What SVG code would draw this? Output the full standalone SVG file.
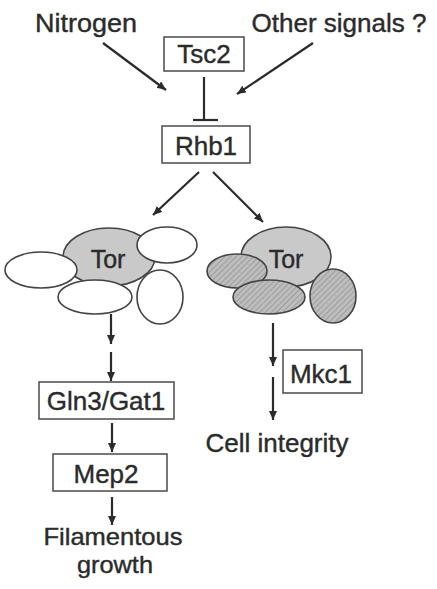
<svg xmlns="http://www.w3.org/2000/svg" width="437" height="589" viewBox="0 0 437 589">
<style>
.t{font-family:"Liberation Sans",Arial,sans-serif;font-size:26px;fill:#2b2b2b;stroke:#2b2b2b;stroke-width:0.4;text-anchor:middle}
.tor{font-size:25px}
.sm{font-size:24px}
.box{fill:#fff;stroke:#555;stroke-width:1.6}
.ln{stroke:#2b2b2b;stroke-width:2.2;fill:none}
.wh{fill:#fff;stroke:#444;stroke-width:1.6}
.gr{fill:#c9c9c9;stroke:#444;stroke-width:1.6}
.ht{fill:url(#hatch);stroke:#444;stroke-width:1.6}
</style>
<defs>
<marker id="ah" markerUnits="userSpaceOnUse" markerWidth="10" markerHeight="10" refX="9" refY="4" orient="auto">
<path d="M0,0 L9,4 L0,8 Z" fill="#2b2b2b"/>
</marker>
<pattern id="hatch" patternUnits="userSpaceOnUse" width="4" height="4" patternTransform="rotate(45)">
<rect width="4" height="4" fill="#bdbdbd"/>
<line x1="0" y1="0" x2="0" y2="4" stroke="#8f8f8f" stroke-width="1.4"/>
</pattern>
</defs>
<rect width="437" height="589" fill="#fff"/>
<g id="nitrogen"><text class="t" x="86" y="32" textLength="102" lengthAdjust="spacingAndGlyphs">Nitrogen</text></g>
<g id="other"><text class="t" x="339" y="32" textLength="175" lengthAdjust="spacingAndGlyphs">Other signals ?</text></g>
<g id="tsc2"><rect class="box" x="164" y="37" width="80" height="34"/><text class="t" x="204" y="63">Tsc2</text></g>
<g id="rhb1"><rect class="box" x="162" y="126" width="88" height="37"/><text class="t" x="206" y="155">Rhb1</text></g>
<g id="tor-complex-left">
<ellipse class="gr" cx="109" cy="257" rx="46" ry="29"/>
<ellipse class="wh" cx="167" cy="245" rx="30" ry="18"/>
<ellipse class="wh" cx="41" cy="270" rx="36" ry="18"/>
<ellipse class="wh" cx="95" cy="297" rx="37" ry="17"/>
<ellipse class="wh" cx="160" cy="297" rx="23" ry="27"/>
<text class="t tor" x="108" y="268">Tor</text>
</g>
<g id="tor-complex-right">
<ellipse class="gr" cx="286" cy="257" rx="45" ry="30"/>
<ellipse class="ht" cx="237" cy="271" rx="30" ry="17"/>
<ellipse class="ht" cx="269" cy="297" rx="36" ry="17"/>
<ellipse class="ht" cx="333" cy="296" rx="23" ry="27"/>
<text class="t tor" x="286" y="268">Tor</text>
</g>
<g id="gln3"><rect class="box" x="39" y="382" width="135" height="37"/><text class="t" x="106" y="410">Gln3/Gat1</text></g>
<g id="mep2"><rect class="box" x="53" y="454" width="114" height="37"/><text class="t" x="106" y="483">Mep2</text></g>
<g id="filamentous"><text class="t sm" x="113" y="545" textLength="139" lengthAdjust="spacingAndGlyphs">Filamentous</text><text class="t sm" x="115" y="573" textLength="76" lengthAdjust="spacingAndGlyphs">growth</text></g>
<g id="mkc1"><rect class="box" x="283" y="350" width="79" height="43"/><text class="t" x="321" y="383">Mkc1</text></g>
<g id="cell"><text class="t" x="277" y="452">Cell integrity</text></g>
<g id="connectors">
<line class="ln" x1="103" y1="43" x2="166" y2="90" marker-end="url(#ah)"/>
<line class="ln" x1="313" y1="43" x2="237" y2="94" marker-end="url(#ah)"/>
<line class="ln" x1="204" y1="77" x2="204" y2="120"/>
<line class="ln" x1="193" y1="120" x2="218" y2="120"/>
<line class="ln" x1="199" y1="172" x2="153" y2="215" marker-end="url(#ah)"/>
<line class="ln" x1="213" y1="172" x2="263" y2="222" marker-end="url(#ah)"/>
<line class="ln" x1="111" y1="314" x2="111" y2="344" marker-end="url(#ah)"/>
<line class="ln" x1="111" y1="352" x2="111" y2="381" marker-end="url(#ah)"/>
<line class="ln" x1="112" y1="423" x2="112" y2="452" marker-end="url(#ah)"/>
<line class="ln" x1="112" y1="497" x2="112" y2="525" marker-end="url(#ah)"/>
<line class="ln" x1="273" y1="323" x2="273" y2="366" marker-end="url(#ah)"/>
<line class="ln" x1="273" y1="377" x2="273" y2="420" marker-end="url(#ah)"/>
</g>
</svg>
